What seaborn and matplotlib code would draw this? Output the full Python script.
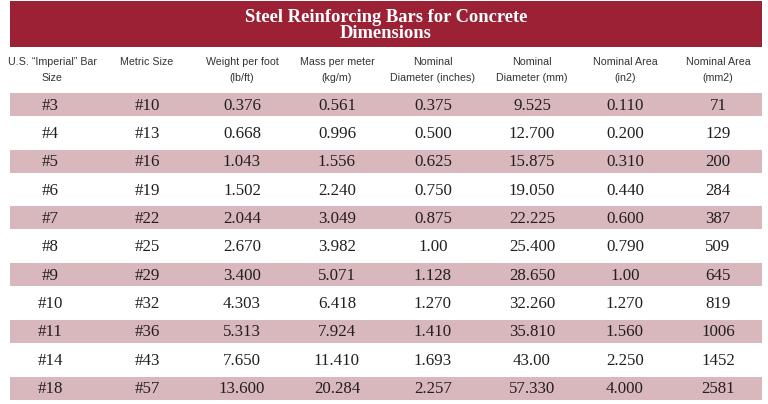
import matplotlib
matplotlib.use("Agg")
import matplotlib.pyplot as plt
import seaborn as sns
import pandas as pd
from matplotlib.patches import Rectangle

sns.set_style("white")

# table data
title_lines = ["Steel Reinforcing Bars for Concrete", "Dimensions"]
headers = [
    "U.S. \u201cImperial\u201d Bar\nSize",
    "Metric Size",
    "Weight per foot\n(lb/ft)",
    "Mass per meter\n(kg/m)",
    "Nominal\nDiameter (inches)",
    "Nominal\nDiameter (mm)",
    "Nominal Area\n(in2)",
    "Nominal Area\n(mm2)",
]
imperial_size = ["#3", "#4", "#5", "#6", "#7", "#8", "#9", "#10", "#11", "#14", "#18"]
metric_size = ["#10", "#13", "#16", "#19", "#22", "#25", "#29", "#32", "#36", "#43", "#57"]
weight_lb_ft = ["0.376", "0.668", "1.043", "1.502", "2.044", "2.670", "3.400", "4.303", "5.313", "7.650", "13.600"]
mass_kg_m = ["0.561", "0.996", "1.556", "2.240", "3.049", "3.982", "5.071", "6.418", "7.924", "11.410", "20.284"]
diameter_in = ["0.375", "0.500", "0.625", "0.750", "0.875", "1.00", "1.128", "1.270", "1.410", "1.693", "2.257"]
diameter_mm = ["9.525", "12.700", "15.875", "19.050", "22.225", "25.400", "28.650", "32.260", "35.810", "43.00", "57.330"]
area_in2 = ["0.110", "0.200", "0.310", "0.440", "0.600", "0.790", "1.00", "1.270", "1.560", "2.250", "4.000"]
area_mm2 = ["71", "129", "200", "284", "387", "509", "645", "819", "1006", "1452", "2581"]

columns = [imperial_size, metric_size, weight_lb_ft, mass_kg_m,
           diameter_in, diameter_mm, area_in2, area_mm2]

RED = "#9C2135"
PINK = "#DDB2BA"
HEAD_TXT = "#333333"
BODY_TXT = "#231F20"

W, H = 768, 404
col_x = [50, 147, 242, 337, 433, 532, 625, 718]   # column centres in pixels
band_left, band_right = 10, 762

df = pd.DataFrame({
    "bar": imperial_size,
    "span": [band_right - band_left] * len(imperial_size),
    "shade": ["pink" if i % 2 == 0 else "white" for i in range(len(imperial_size))],
})

fig = plt.figure(figsize=(W / 100, H / 100), dpi=100)

# body: striped rows
pitch = 28.35
top = 104.5 - pitch / 2
bottom = top + pitch * len(imperial_size)
ax = fig.add_axes([band_left / W, 1 - bottom / H, (band_right - band_left) / W, (bottom - top) / H])
sns.barplot(data=df, x="span", y="bar", hue="shade", palette={"pink": PINK, "white": "white"},
            orient="h", dodge=False, width=23 / pitch, errorbar=None, legend=False,
            linewidth=0, ax=ax)
ax.set_xlim(0, band_right - band_left)
ax.set_ylim(len(imperial_size) - 0.5, -0.5)
ax.axis("off")

serif = ["Liberation Serif", "DejaVu Serif"]
sans = ["Liberation Sans", "DejaVu Sans"]

for j, col in enumerate(columns):
    for i, val in enumerate(col):
        ax.text(col_x[j] - band_left, i + 0.04, val, ha="center", va="center",
                family=serif, fontsize=12.2, color=BODY_TXT)

# header band, title and column headers
ax0 = fig.add_axes([0, 0, 1, 1], zorder=-1)
ax0.set_xlim(0, W)
ax0.set_ylim(H, 0)
ax0.axis("off")
ax0.add_patch(Rectangle((band_left, 1), band_right - band_left, 46, color=RED, lw=0))
ax0.text(386, 17, title_lines[0], ha="center", va="center", family=serif,
         fontweight="bold", fontsize=13.3, color="white")
ax0.text(386, 34, title_lines[1], ha="center", va="center", family=serif,
         fontweight="bold", fontsize=13.3, color="white")

for j, h in enumerate(headers):
    for k, line in enumerate(h.split("\n")):
        ax0.text(col_x[j] + (2 if j == 0 else 0), 62 + 16 * k, line, ha="center", va="center",
                 family=sans, fontsize=7.7, color=HEAD_TXT)

fig.savefig("out.png", dpi=100)
plt.close(fig)
